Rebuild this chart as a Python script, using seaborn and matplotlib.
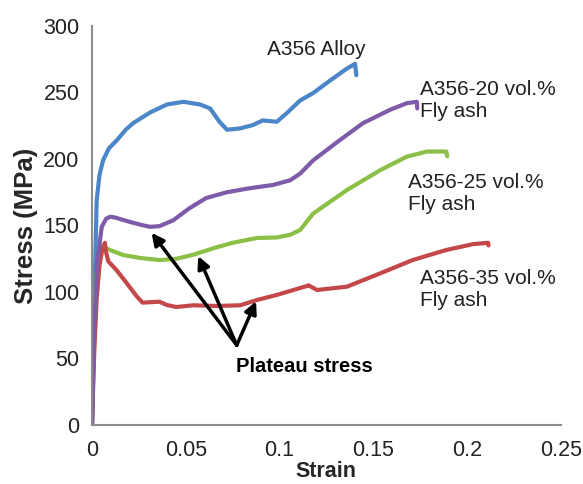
import matplotlib
matplotlib.use("Agg")
import matplotlib.pyplot as plt
import seaborn as sns
import pandas as pd

# ---- data ----
alloy_x = [0, 0.0008, 0.0015, 0.0025, 0.004, 0.0059, 0.009, 0.0132, 0.018, 0.022, 0.031, 0.040,
           0.0487, 0.0576, 0.063, 0.068, 0.072, 0.079, 0.086, 0.091, 0.0986, 0.104, 0.111, 0.118,
           0.127, 0.136, 0.1403, 0.141]
alloy_y = [0, 60, 110, 169, 188, 199, 208, 214, 222, 227, 235, 241,
           243, 241, 238, 228, 222, 223, 225.6, 229, 228, 234.6, 244, 249.6,
           259, 268, 271.5, 263]

fa20_x = [0, 0.0006, 0.0015, 0.003, 0.0052, 0.0075, 0.0096, 0.0123, 0.017, 0.022, 0.027, 0.031, 0.036,
          0.0434, 0.052, 0.061, 0.0719, 0.084, 0.0966, 0.1057, 0.111, 0.118, 0.132, 0.1446,
          0.159, 0.168, 0.1733, 0.1735]
fa20_y = [0, 40, 85, 125, 149, 155, 156.6, 156, 154, 152, 150.2, 149, 149.5,
          154, 163, 170.7, 175, 178, 180.5, 184, 189, 199, 214, 227,
          237, 242, 243, 238]

fa25_x = [0, 0.001, 0.002, 0.0035, 0.005, 0.0075, 0.0096, 0.0166, 0.0256, 0.036, 0.045, 0.054,
          0.065, 0.075, 0.088, 0.0986, 0.1057, 0.111, 0.118, 0.136, 0.154, 0.168, 0.1786,
          0.189, 0.1895]
fa25_y = [0, 60, 105, 128, 135, 133, 131.6, 127.8, 125.6, 124, 125, 128,
          133, 137, 140.6, 141, 143, 146.6, 159, 176.7, 191.8, 201.8, 205.6,
          205.6, 202]

fa35_x = [0, 0.0012, 0.0025, 0.004, 0.0055, 0.0069, 0.0075, 0.0087, 0.013, 0.0185, 0.024, 0.027,
          0.036, 0.040, 0.045, 0.054, 0.0665, 0.079, 0.088, 0.0986, 0.111, 0.1146, 0.1155,
          0.12, 0.136, 0.1537, 0.171, 0.189, 0.2033, 0.2113, 0.2115]
fa35_y = [0, 55, 95, 120, 132, 137, 130, 123, 116.6, 106.7, 96.5, 92,
          92.7, 90.2, 88.7, 90, 89.5, 90, 94, 97.8, 103, 104.5, 105,
          101.5, 104, 114, 124, 131.6, 136, 137, 135]

series_names = ["A356 Alloy", "A356-25 vol.%\nFly ash", "A356-35 vol.%\nFly ash", "A356-20 vol.%\nFly ash"]
series_colors = ["#4a86c8", "#8cbf45", "#c4484a", "#7d5ba8"]

x_ticks = [0, 0.05, 0.1, 0.15, 0.2, 0.25]
x_tick_labels = ["0", "0.05", "0.1", "0.15", "0.2", "0.25"]
y_ticks = [0, 50, 100, 150, 200, 250, 300]

# label positions (data coords)
label_pos = {
    "A356 Alloy": (0.0933, 282),
    "A356-20 vol.%\nFly ash": (0.175, 244),
    "A356-25 vol.%\nFly ash": (0.1685, 174),
    "A356-35 vol.%\nFly ash": (0.175, 102),
}
plateau_text = "Plateau stress"
plateau_text_pos = (0.1131, 44)
plateau_tail = (0.0772, 60)
plateau_heads = [(0.0318, 144.5), (0.0567, 127.0), (0.0875, 93.0)]

# ---- build dataframe ----
frames = []
for name, xs, ys in [("A356 Alloy", alloy_x, alloy_y),
                     ("A356-25 vol.%\nFly ash", fa25_x, fa25_y),
                     ("A356-35 vol.%\nFly ash", fa35_x, fa35_y),
                     ("A356-20 vol.%\nFly ash", fa20_x, fa20_y)]:
    frames.append(pd.DataFrame({"Strain": xs, "Stress": ys, "Series": name}))
df = pd.concat(frames, ignore_index=True)

sns.set_style("white")
plt.rcParams["font.family"] = ["Liberation Sans", "DejaVu Sans"]

fig = plt.figure(figsize=(5.83, 4.84), dpi=100)
ax = fig.add_axes([0.1578, 0.1219, 0.8039, 0.8244])

sns.lineplot(data=df, x="Strain", y="Stress", hue="Series", hue_order=series_names,
             palette=series_colors, sort=False, estimator=None, units="Series",
             linewidth=3.0, legend=False, ax=ax,
             solid_joinstyle="round", solid_capstyle="round")

ax.set_xlim(0, 0.25)
ax.set_ylim(0, 300)
ax.set_xticks(x_ticks)
ax.set_xticklabels(x_tick_labels)
ax.set_yticks(y_ticks)
ax.tick_params(axis="both", labelsize=15.5, colors="#8c8c8c", length=5, width=1.3,
               labelcolor="#222222", direction="out", pad=4)
ax.tick_params(axis="x", pad=6)
for s in ["top", "right"]:
    ax.spines[s].set_visible(False)
for s in ["left", "bottom"]:
    ax.spines[s].set_color("#8c8c8c")
    ax.spines[s].set_linewidth(1.5)

ax.set_xlabel("Strain", fontsize=15.5, fontweight="bold", labelpad=0)
ax.set_ylabel("Stress (MPa)", fontsize=18.5, fontweight="bold", labelpad=4)

for name, (lx, ly) in label_pos.items():
    ax.text(lx, ly, name, fontsize=15, color="#222222", ha="left", va="center", linespacing=1.2)

ax.text(plateau_text_pos[0], plateau_text_pos[1], plateau_text, fontsize=14.5, fontweight="bold",
        ha="center", va="center", color="black")
for hx, hy in plateau_heads:
    ax.annotate("", xy=(hx, hy), xytext=plateau_tail,
                arrowprops=dict(arrowstyle="-|>", color="black", lw=2.5, mutation_scale=18,
                                shrinkA=0, shrinkB=0))

fig.savefig("out.png", dpi=100)
